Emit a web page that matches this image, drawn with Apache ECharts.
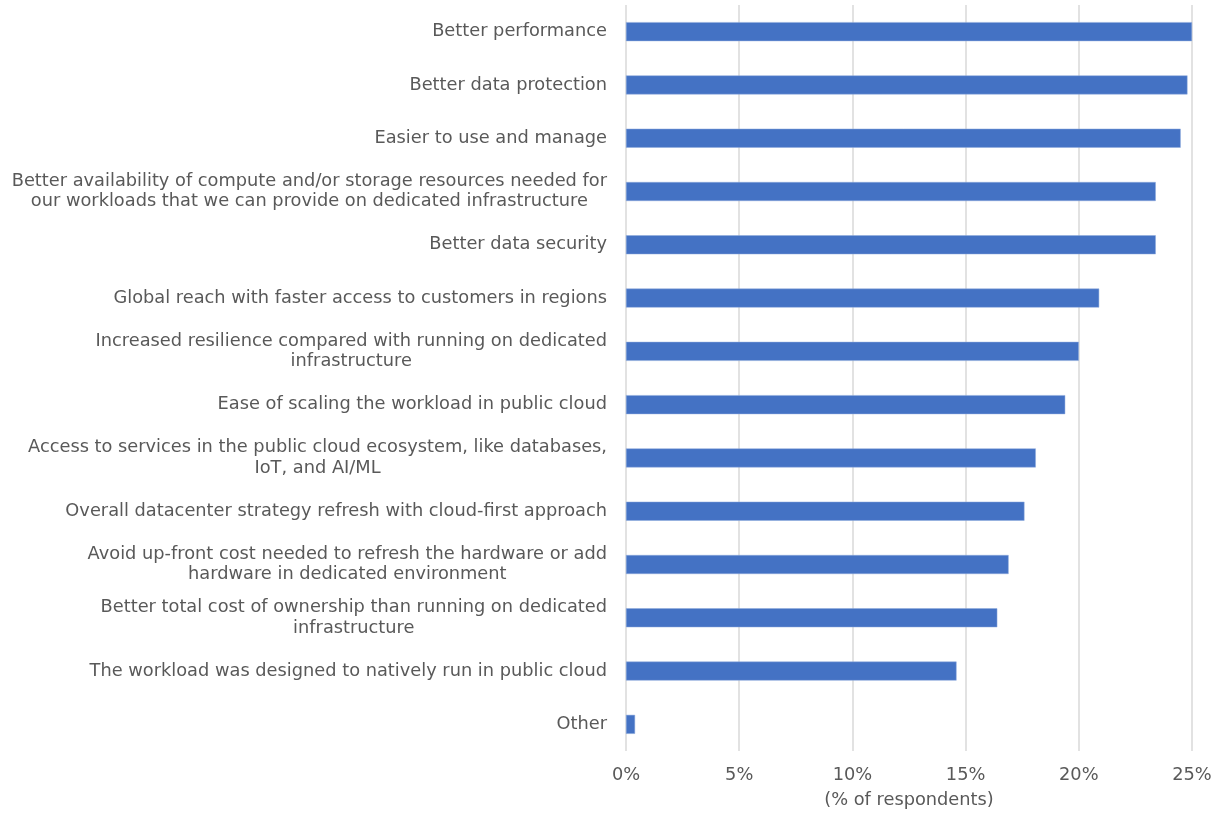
<!DOCTYPE html>
<html>
<head>
<meta charset="utf-8">
<script src="https://cdn.jsdelivr.net/npm/echarts@6/dist/echarts.min.js"></script>
<style>
  html, body { margin: 0; padding: 0; background: #fff; }
  #chart { width: 1215px; height: 815px; }
</style>
</head>
<body>
<div id="chart"></div>
<script>
const categories = [
  'Better performance',
  'Better data protection',
  'Easier to use and manage',
  'Better availability of compute and/or storage resources needed for\nour workloads that we can provide on dedicated infrastructure',
  'Better data security',
  'Global reach with faster access to customers in regions',
  'Increased resilience compared with running on dedicated\ninfrastructure',
  'Ease of scaling the workload in public cloud',
  'Access to services in the public cloud ecosystem, like databases,\nIoT, and AI/ML',
  'Overall datacenter strategy refresh with cloud-first approach',
  'Avoid up-front cost needed to refresh the hardware or add\nhardware in dedicated environment',
  'Better total cost of ownership than running on dedicated\ninfrastructure',
  'The workload was designed to natively run in public cloud',
  'Other'
];
const respondents = [25.0, 24.8, 24.5, 23.4, 23.4, 20.9, 20.0, 19.4, 18.1, 17.6, 16.9, 16.4, 14.6, 0.4];
const xTicks = { min: 0, max: 25, interval: 5 };

const textColor = '#595959';
const font = 'DejaVu Sans';
const fs = 17.8;

const chart = echarts.init(document.getElementById('chart'));
chart.setOption({
  animation: false,
  grid: { left: 626, right: 23, top: 5, bottom: 64, containLabel: false },
  xAxis: {
    type: 'value',
    min: xTicks.min,
    max: xTicks.max,
    interval: xTicks.interval,
    name: '(% of respondents)',
    nameLocation: 'middle',
    nameGap: 40,
    nameTextStyle: { color: textColor, fontSize: fs, fontFamily: font },
    axisLine: { show: false },
    axisTick: { show: false },
    axisLabel: { color: textColor, fontSize: fs, fontFamily: font, margin: 15, formatter: '{value}%' },
    splitLine: { lineStyle: { color: '#d9d9d9', width: 1.5 } }
  },
  yAxis: {
    type: 'category',
    inverse: true,
    data: categories,
    axisLine: { show: false },
    axisTick: { show: false },
    axisLabel: {
      margin: 19,
      formatter: (v) => v.split('\n').map((s) => '{c|' + s + '}').join('\n'),
      rich: {
        c: { align: 'center', color: textColor, fontSize: fs, fontFamily: font, lineHeight: 20.5 }
      }
    }
  },
  series: [
    {
      type: 'bar',
      data: respondents,
      barWidth: 19,
      itemStyle: { color: '#4472c4', borderColor: '#8faadc', borderWidth: 0.5 }
    }
  ]
});
</script>
</body>
</html>
